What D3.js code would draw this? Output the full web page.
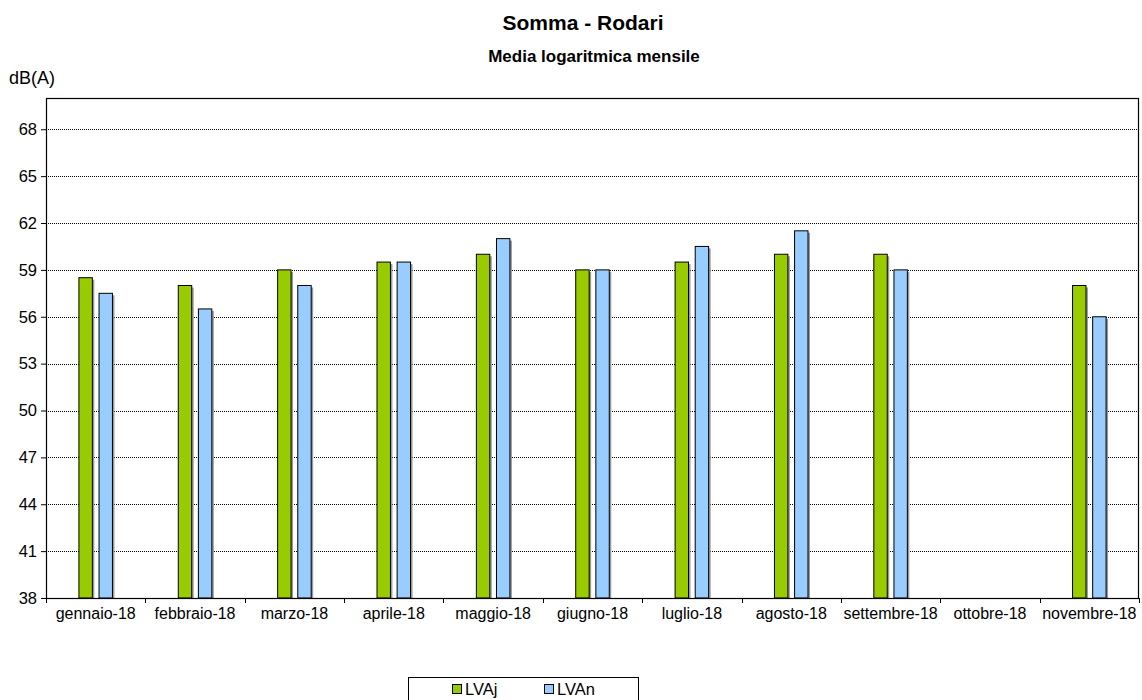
<!DOCTYPE html>
<html>
<head>
<meta charset="utf-8">
<script src="https://cdn.jsdelivr.net/npm/d3@7"></script>
<style>
  body { margin: 0; background: #fff; }
  text { font-family: "Liberation Sans", Arial, sans-serif; }
</style>
</head>
<body>
<script>
var months = ['gennaio-18', 'febbraio-18', 'marzo-18', 'aprile-18', 'maggio-18', 'giugno-18',
              'luglio-18', 'agosto-18', 'settembre-18', 'ottobre-18', 'novembre-18'];
var lvaj = [58.5, 58, 59, 59.5, 60, 59, 59.5, 60, 60, null, 58];
var lvan = [57.5, 56.5, 58, 59.5, 61, 59, 60.5, 61.5, 59, null, 56];
var yTicks = [38, 41, 44, 47, 50, 53, 56, 59, 62, 65, 68];
var series = [
  { name: 'LVAj', values: lvaj, color: '#99cc00' },
  { name: 'LVAn', values: lvan, color: '#99ccff' }
];

var w = 1142, h = 700;
var margin = { top: 98, left: 46, right: 3, bottom: 102 };
var width = w - margin.left - margin.right;
var height = h - margin.top - margin.bottom;

var svg = d3.select('body').append('svg')
    .attr('width', w)
    .attr('height', h);

svg.append('text').attr('x', 583).attr('y', 30)
    .attr('text-anchor', 'middle').attr('font-size', 21).attr('font-weight', 'bold')
    .text('Somma - Rodari');
svg.append('text').attr('x', 594).attr('y', 62)
    .attr('text-anchor', 'middle').attr('font-size', 17).attr('font-weight', 'bold')
    .text('Media logaritmica mensile');
svg.append('text').attr('x', 9).attr('y', 84)
    .attr('font-size', 18).text('dB(A)');

var x = d3.scaleBand().domain(months).range([0, width]);
var y = d3.scaleLinear().domain([38, 70]).range([height, 0]);

var chart = svg.append('g')
    .attr('transform', 'translate(' + margin.left + ',' + margin.top + ')');

// grid
chart.append('g').selectAll('line')
    .data(yTicks.filter(function(t) { return t > 38; }))
    .enter().append('line')
    .attr('x1', 0).attr('x2', width)
    .attr('y1', function(d) { return Math.round(y(d)) + 0.5; })
    .attr('y2', function(d) { return Math.round(y(d)) + 0.5; })
    .attr('stroke', '#000').attr('stroke-width', 1)
    .attr('stroke-dasharray', '1,1');

// bars
var bw = x.bandwidth() * 0.135;
var gap = bw * 0.5;
series.forEach(function(s, si) {
  var off = x.bandwidth() / 2 - bw - gap / 2 + si * (bw + gap);
  var bars = chart.append('g').selectAll('rect')
    .data(months.map(function(m, i) { return { m: m, v: s.values[i] }; })
      .filter(function(d) { return d.v != null; }))
    .enter();
  bars.append('rect')
    .attr('x', function(d) { return x(d.m) + off + 2; })
    .attr('y', function(d) { return y(d.v) + 2; })
    .attr('width', bw)
    .attr('height', function(d) { return height - y(d.v) - 2; })
    .attr('fill', '#999');
  bars.append('rect')
    .attr('x', function(d) { return x(d.m) + off; })
    .attr('y', function(d) { return y(d.v); })
    .attr('width', bw)
    .attr('height', function(d) { return height - y(d.v); })
    .attr('fill', s.color)
    .attr('stroke', '#000').attr('stroke-width', 1);
});

// frame
chart.append('rect')
    .attr('x', 0.5).attr('y', 0.5)
    .attr('width', width - 1).attr('height', height)
    .attr('fill', 'none').attr('stroke', '#000').attr('stroke-width', 1.2);

var yAxis = d3.axisLeft(y).tickValues(yTicks).tickSize(5).tickPadding(4);
var gy = chart.append('g').call(yAxis);
gy.select('.domain').remove();
gy.selectAll('text').attr('font-size', 16.5).attr('fill', '#000').style('font-family', '"Liberation Sans", Arial, sans-serif');

var xAxis = d3.axisBottom(x).tickSize(0).tickPadding(10);
var gx = chart.append('g').attr('transform', 'translate(0,' + height + ')').call(xAxis);
gx.select('.domain').remove();
gx.selectAll('text').attr('font-size', 16).attr('fill', '#000').style('font-family', '"Liberation Sans", Arial, sans-serif');
// category separators
chart.append('g').selectAll('line')
    .data(months.concat(['_end']))
    .enter().append('line')
    .attr('x1', function(d, i) { return Math.round(i * x.step()) + 0.5; })
    .attr('x2', function(d, i) { return Math.round(i * x.step()) + 0.5; })
    .attr('y1', height).attr('y2', height + 5)
    .attr('stroke', '#000');

// legend
var lg = svg.append('g').attr('transform', 'translate(408,677)');
lg.append('rect').attr('x', 0.5).attr('y', 0.5).attr('width', 230).attr('height', 30)
    .attr('fill', '#fff').attr('stroke', '#000');
series.forEach(function(s, i) {
  var gx0 = 44 + i * 92;
  lg.append('rect').attr('x', gx0 + 0.5).attr('y', 7.5).attr('width', 9).attr('height', 9)
    .attr('fill', s.color).attr('stroke', '#000');
  lg.append('text').attr('x', gx0 + 13).attr('y', 18).attr('font-size', 16.5).text(s.name);
});
</script>
</body>
</html>
